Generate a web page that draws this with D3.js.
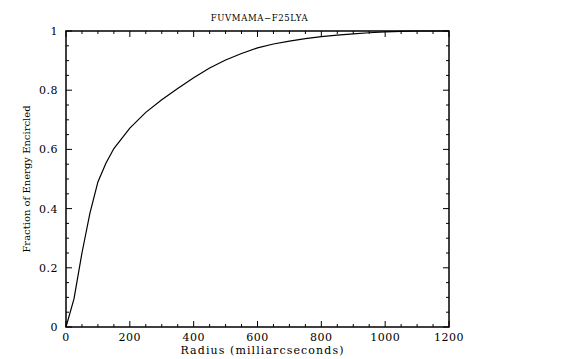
<!DOCTYPE html>
<html><head><meta charset="utf-8">
<script src="https://cdn.jsdelivr.net/npm/d3@7"></script>
<style>body{margin:0;background:#fff}svg{display:block}text{font-family:"DejaVu Serif","Liberation Serif",serif;fill:#000}</style>
</head><body>
<svg id="c" width="580" height="359"></svg>
<script>
const title = "FUVMAMA\u2212F25LYA";
const xLabel = "Radius (milliarcseconds)";
const yLabel = "Fraction of Energy Encircled";
const radius = [0,25,50,75,100,125,150,200,250,300,350,400,450,500,550,600,650,700,750,800,850,900,950,1000,1050,1100,1150,1200];
const fraction = [0,0.095,0.25,0.385,0.49,0.553,0.603,0.672,0.725,0.768,0.806,0.842,0.875,0.902,0.924,0.943,0.956,0.966,0.974,0.981,0.986,0.990,0.994,0.997,0.999,1.0,1.0,1.0];
const xTicks = [0,200,400,600,800,1000,1200];
const yTicks = [0,0.2,0.4,0.6,0.8,1];
const yTickLabels = ["0","0.2","0.4","0.6","0.8","1"];

const L=66,R=449,T=31,B=327;
const svg=d3.select("#c");
const x=d3.scaleLinear().domain([0,1200]).range([L,R]);
const y=d3.scaleLinear().domain([0,1]).range([B,T]);
const minorX=d3.range(0,1201,50), minorY=d3.range(0,1.0001,0.05);
const g=svg.append("g");
minorX.forEach(v=>{const len=(v%200===0)?6:3;
  g.append("line").attr("x1",x(v)).attr("x2",x(v)).attr("y1",B).attr("y2",B-len).attr("stroke","#000");
  g.append("line").attr("x1",x(v)).attr("x2",x(v)).attr("y1",T).attr("y2",T+len).attr("stroke","#000");
});
minorY.forEach((v,i)=>{const len=(i%4===0)?6:3;
  g.append("line").attr("x1",L).attr("x2",L+len).attr("y1",y(v)).attr("y2",y(v)).attr("stroke","#000");
  g.append("line").attr("x1",R).attr("x2",R-len).attr("y1",y(v)).attr("y2",y(v)).attr("stroke","#000");
});
svg.append("rect").attr("x",L).attr("y",T).attr("width",R-L).attr("height",B-T).attr("fill","none").attr("stroke","#000").attr("stroke-width",1.5);

xTicks.forEach(v=>svg.append("text").attr("x",x(v)).attr("y",B+14).attr("text-anchor","middle").attr("font-size",11).attr("letter-spacing",0.5).text(v));
yTicks.forEach((v,i)=>svg.append("text").attr("x",L-8).attr("y",y(v)+4).attr("text-anchor","end").attr("font-size",11).attr("letter-spacing",0.5).text(yTickLabels[i]));

const line=d3.line().x((d,i)=>x(radius[i])).y(d=>y(d)).curve(d3.curveLinear);
svg.append("path").datum(fraction).attr("d",line).attr("fill","none").attr("stroke","#000").attr("stroke-width",1.2);

svg.append("text").attr("x",(L+R)/2+2).attr("y",21).attr("text-anchor","middle").attr("font-size",8.5).attr("letter-spacing",0.6).text(title);
svg.append("text").attr("x",(L+R)/2+5).attr("y",354).attr("text-anchor","middle").attr("font-size",11).attr("letter-spacing",1.1).text(xLabel);
svg.append("text").attr("transform",`translate(30,${(T+B)/2}) rotate(-90)`).attr("text-anchor","middle").attr("font-size",10).text(yLabel);
</script>
</body></html>
